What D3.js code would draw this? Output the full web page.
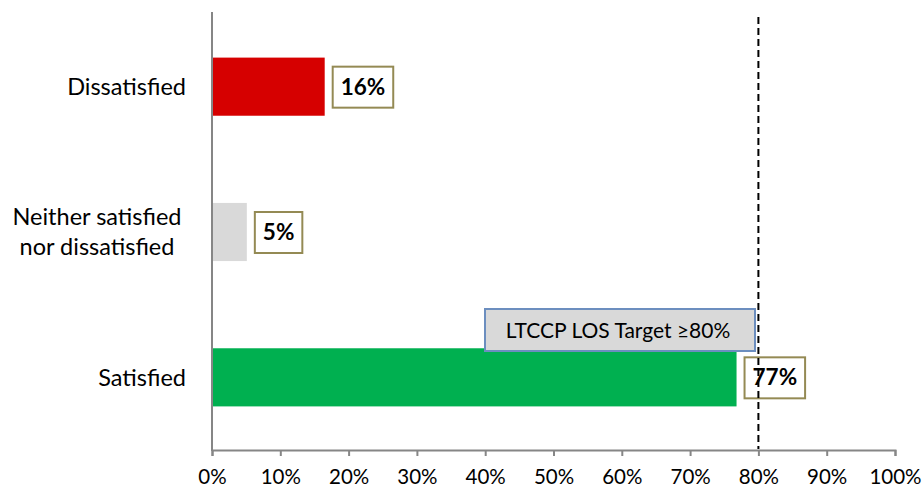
<!DOCTYPE html>
<html>
<head>
<meta charset="utf-8">
<script src="https://cdn.jsdelivr.net/npm/d3@7"></script>
<style>
  body { margin: 0; background: #fff; }
  text { font-family: Lato, "Noto Sans", sans-serif; }
</style>
</head>
<body>
<div id="chart"></div>
<script>
var categories = ["Dissatisfied", "Neither satisfied\nnor dissatisfied", "Satisfied"];
var values = [16.5, 5.1, 76.8];
var valueLabels = ["16%", "5%", "77%"];
var barColors = ["#d60000", "#d9d9d9", "#00b050"];
var tickValues = [0, 10, 20, 30, 40, 50, 60, 70, 80, 90, 100];
var targetValue = 80;
var targetText = "LTCCP LOS Target \u226580%";

var width = 924, height = 497;
var svg = d3.select("#chart").append("svg")
  .attr("width", width)
  .attr("height", height);

var x = d3.scaleLinear().domain([0, 100]).range([212, 895]);
var y = d3.scaleBand().domain(categories).range([14, 450]).paddingInner(0.6).paddingOuter(0.3);

// bars
svg.selectAll(".bar")
  .data(values)
  .enter().append("rect")
  .attr("class", "bar")
  .attr("x", x(0))
  .attr("y", function(d, i) { return y(categories[i]); })
  .attr("width", function(d) { return x(d) - x(0); })
  .attr("height", y.bandwidth())
  .style("fill", function(d, i) { return barColors[i]; });

// x axis
var xAxis = svg.append("g")
  .attr("transform", "translate(0,450)")
  .call(d3.axisBottom(x).tickValues(tickValues).tickSize(6).tickPadding(13)
    .tickFormat(function(d) { return d + "%"; }));
xAxis.select(".domain").attr("stroke", "#868686").attr("stroke-width", 2);
xAxis.selectAll(".tick line").attr("stroke", "#868686").attr("stroke-width", 2);
xAxis.selectAll(".tick text").style("font-size", "20.5px").attr("fill", "#000");

// y axis line
svg.append("line")
  .attr("x1", x(0)).attr("x2", x(0))
  .attr("y1", 12).attr("y2", 451)
  .attr("stroke", "#868686").attr("stroke-width", 2);

// category labels
svg.selectAll(".cat")
  .data(categories)
  .enter().append("text")
  .attr("class", "cat")
  .style("font-size", "23.5px")
  .attr("fill", "#000")
  .each(function(d) {
    var lines = d.split("\n");
    var t = d3.select(this);
    var cy = y(d) + y.bandwidth() / 2;
    if (lines.length === 1) {
      t.attr("text-anchor", "end").attr("x", 186).attr("y", cy).attr("dy", "0.35em").text(d);
    } else {
      t.attr("text-anchor", "middle");
      lines.forEach(function(l, k) {
        t.append("tspan").attr("x", 97).attr("y", cy + (k - 0.5) * 30).attr("dy", "0.35em").text(l);
      });
    }
  });

// target dashed line
svg.append("line")
  .attr("x1", x(targetValue)).attr("x2", x(targetValue))
  .attr("y1", 17).attr("y2", 449)
  .attr("stroke", "#000").attr("stroke-width", 2)
  .attr("stroke-dasharray", "7,4");

// value label boxes
var labels = svg.selectAll(".vlab")
  .data(values)
  .enter().append("g")
  .attr("class", "vlab")
  .attr("transform", function(d, i) {
    return "translate(" + (x(d) + 8) + "," + (y(categories[i]) + y.bandwidth() / 2) + ")";
  });
labels.append("text")
  .attr("x", 8)
  .attr("dy", "0.35em")
  .style("font-size", "22.5px")
  .style("font-weight", "bold")
  .attr("fill", "#000")
  .text(function(d, i) { return valueLabels[i]; });
labels.insert("rect", "text")
  .each(function() {
    var bb = this.parentNode.querySelector("text").getBBox();
    d3.select(this)
      .attr("x", 0).attr("y", -20)
      .attr("width", bb.width + 16).attr("height", 41)
      .style("fill", "#fff")
      .style("stroke", "#948a54")
      .style("stroke-width", 2);
  });
svg.select("line[stroke-dasharray]").raise();
labels.filter(function(d, i) { return i === 2; }).select("text").each(function() {
  svg.node().appendChild(this.parentNode.cloneNode(false)).appendChild(this);
});

// target annotation box
var tg = svg.append("g");
tg.append("rect")
  .attr("x", 485).attr("y", 309)
  .attr("width", 270).attr("height", 42)
  .style("fill", "#d9d9d9")
  .style("stroke", "#6c8ebf")
  .style("stroke-width", 2);
tg.append("text")
  .attr("x", 618).attr("y", 331)
  .attr("dy", "0.35em")
  .attr("text-anchor", "middle")
  .style("font-size", "21px")
  .attr("fill", "#000")
  .text(targetText);
</script>
</body>
</html>
